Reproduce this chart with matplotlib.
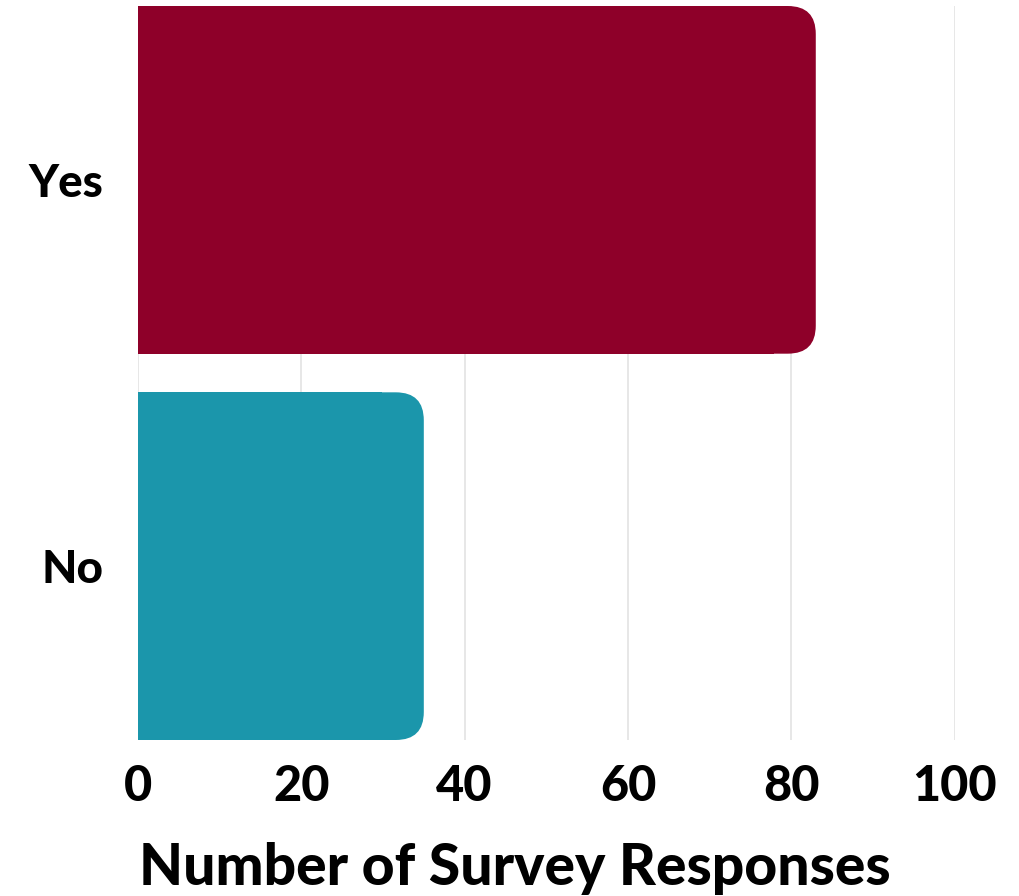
import matplotlib
matplotlib.use("Agg")
import matplotlib.pyplot as plt
from matplotlib.patches import FancyBboxPatch, Rectangle

# data
answers = ["Yes", "No"]
responses = [83, 35]
bar_colors = ["#8E0029", "#1B96AB"]
xticks = [0, 20, 40, 60, 80, 100]

plt.rcParams['font.family'] = ['Lato', 'DejaVu Sans']

fig = plt.figure(figsize=(10.19, 8.96), dpi=100)
ax = fig.add_axes([138 / 1019, 1 - 740 / 896, (954.6 - 138) / 1019, 734 / 896])

ypos = [1, 0]
bars = ax.barh(ypos, responses, height=0.9, color=bar_colors)
ax.set_xlim(0, 100)
ax.set_ylim(-0.45, 1.45)

# round the right corners of each bar
fig.canvas.draw()
px_x = ax.transData.transform((1, 0))[0] - ax.transData.transform((0, 0))[0]
px_y = ax.transData.transform((0, 1))[1] - ax.transData.transform((0, 0))[1]
r = 28 / px_x
for b in bars:
    x, y = b.get_x(), b.get_y()
    w, h = b.get_width(), b.get_height()
    col = b.get_facecolor()
    b.set_visible(False)
    ax.add_patch(FancyBboxPatch((x, y), w, h,
                                boxstyle="round,pad=0,rounding_size=%f" % r,
                                mutation_aspect=px_x / px_y,
                                facecolor=col, edgecolor="none", zorder=2))
    ax.add_patch(Rectangle((x, y), w - r * 1.5, h, facecolor=col,
                           edgecolor="none", zorder=2))

ax.set_xticks(xticks)
ax.set_yticks(ypos)
ax.set_yticklabels(answers)
ax.grid(axis="x", color="#e3e3e3", linewidth=1.2, zorder=0)
ax.set_axisbelow(True)
for s in ax.spines.values():
    s.set_visible(False)
ax.tick_params(axis="both", length=0)
ax.tick_params(axis="x", labelsize=35, pad=17)
ax.tick_params(axis="y", labelsize=33, pad=25)
for lab in ax.get_xticklabels() + ax.get_yticklabels():
    lab.set_fontweight("black")
ax.set_xlabel("Number of Survey Responses", fontsize=41, fontweight="black", labelpad=24)
ax.xaxis.label.set_x((515 - 138) / 816.6)

fig.savefig("out.png", dpi=100)
